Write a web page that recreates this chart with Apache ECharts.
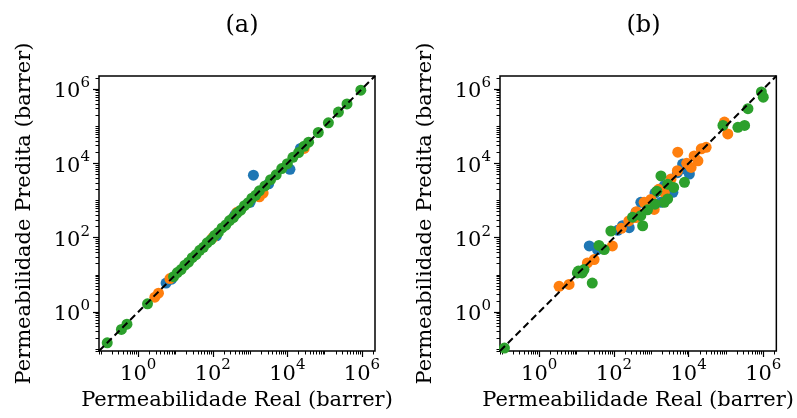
<!DOCTYPE html>
<html>
<head>
<meta charset="utf-8">
<script src="https://cdn.jsdelivr.net/npm/echarts@6/dist/echarts.min.js"></script>
<style>
  html, body { margin: 0; padding: 0; background: #fff; }
  #chart { width: 797px; height: 418px; }
</style>
</head>
<body>
<div id="chart"></div>
<script>
// Axis range shared by both panels (barrer) and the parity line drawn across it
const axisMin = 0.089;
const axisMax = 2240000;
const parityLine = [axisMin, axisMax];

// Tick marks on the log axes
const majorTicks = [1, 100, 10000, 1000000];
const minorTicks = [];
for (let n = -2; n <= 6; n++) {
  for (let k = 1; k <= 9; k++) {
    const v = k * Math.pow(10, n);
    if (k === 1 && majorTicks.indexOf(v) >= 0) continue;
    if (v >= axisMin && v <= axisMax) minorTicks.push(v);
  }
}

// Panel (a): real vs predicted permeability
const aBlueReal = [5.6, 7.9, 126, 398, 1000, 1230, 3160, 11750, 22400];
const aBluePred = [6.0, 7.6, 112, 417, 891, 4790, 2820, 6920, 25100];
const aOrangeReal = [2.8, 3.5, 7.1, 100, 447, 1780, 2240, 28200];
const aOrangePred = [2.5, 3.2, 7.9, 100, 479, 1260, 1580, 25100];
const aGreenReal = [0.148, 0.355, 0.50, 1.78, 8.9, 11.2, 14.1, 17.8, 22.4, 28.2, 35.5, 44.7, 56.2, 70.8, 89.1, 112, 141, 178, 224, 282, 355, 447, 562, 708, 891, 1120, 1410, 1780, 2510, 3550, 5010, 7080, 10000, 14100, 20000, 28200, 37200, 67600, 126000, 234000, 398000, 933000];
const aGreenPred = [0.148, 0.339, 0.47, 1.66, 8.9, 11.5, 13.8, 18.2, 21.9, 28.8, 34.7, 45.7, 55.0, 72.4, 87.1, 115, 138, 182, 219, 288, 347, 457, 550, 724, 871, 1150, 1380, 1820, 2460, 3630, 4900, 7240, 9770, 14500, 19500, 28800, 37200, 67600, 123000, 240000, 398000, 933000];

// Panel (b): real vs predicted permeability
const bBlueReal = [21.9, 36.3, 170, 257, 525, 1820, 3800, 6920, 10500, 2240, 389, 5010, 126, 1260, 7940];
const bBluePred = [60, 47.9, 209, 186, 891, 891, 1660, 9550, 5130, 2510, 479, 5620, 158, 1585, 7080];
const bOrangeReal = [3.4, 6.3, 5130, 91, 29.5, 19.5, 21900, 29500, 17800, 11700, 977, 646, 1200, 3390, 91200, 112000, 389, 2240, 158, 251, 398, 1000, 1585, 5010, 8910, 14100];
const bOrangePred = [4.9, 5.5, 20000, 60, 25.7, 20.9, 24500, 26900, 11700, 7760, 1070, 891, 575, 3800, 129000, 61700, 347, 1660, 178, 282, 501, 708, 1995, 6310, 10000, 15800];
const bGreenReal = [0.117, 26.3, 10.5, 15.8, 83, 55, 39.8, 589, 525, 1820, 2750, 2240, 2750, 7760, 83200, 209000, 316000, 389000, 891000, 1000000, 1410, 11.2, 14.1, 316, 794, 1260, 3980];
const bGreenPred = [0.107, 6.0, 11.2, 13.8, 151, 47.9, 61.7, 209, 389, 4570, 2750, 891, 1100, 3090, 105000, 93300, 105000, 295000, 832000, 603000, 1780, 12.6, 11.2, 355, 562, 794, 2240];

const panelTitles = ['(a)', '(b)'];
const xName = 'Permeabilidade Real (barrer)';
const yName = 'Permeabilidade Predita (barrer)';

const colors = { blue: '#1f77b4', orange: '#ff7f0e', green: '#2ca02c' };
const serif = 'DejaVu Serif';

const pairs = (xs, ys) => xs.map((x, i) => [x, ys[i]]);

const grids = [
  { left: 99, top: 76, width: 276, height: 275 },
  { left: 500, top: 76, width: 277, height: 275 }
];

function powLabel(v) {
  const e = Math.round(Math.log10(v));
  return '{b|10}{s|' + e + '}';
}

const labelRich = {
  b: { fontFamily: serif, fontSize: 21, color: '#000', lineHeight: 27, verticalAlign: 'bottom' },
  s: { fontFamily: serif, fontSize: 15, color: '#000', lineHeight: 27, verticalAlign: 'top' }
};

function majorAxis(gi, isX) {
  return {
    type: 'log', logBase: 10, gridIndex: gi,
    position: isX ? 'bottom' : 'left',
    min: axisMin, max: axisMax,
    name: isX ? xName : yName,
    nameLocation: 'middle',
    nameGap: isX ? 38 : 64,
    nameTextStyle: { fontFamily: serif, fontSize: 21, color: '#000' },
    axisLine: { show: false },
    splitLine: { show: false },
    axisTick: { show: true, inside: false, length: 6, customValues: majorTicks,
      lineStyle: { color: '#000', width: 1.2 } },
    axisLabel: { show: true, customValues: majorTicks, margin: isX ? 7 : 9,
      formatter: powLabel, rich: labelRich }
  };
}

function minorAxis(gi, isX) {
  return {
    type: 'log', logBase: 10, gridIndex: gi,
    position: isX ? 'bottom' : 'left',
    min: axisMin, max: axisMax,
    axisLine: { show: false },
    splitLine: { show: false },
    axisLabel: { show: false },
    axisTick: { show: true, inside: false, length: 3.5, customValues: minorTicks,
      lineStyle: { color: '#000', width: 1 } }
  };
}

function scatter(ax, data, color) {
  return {
    type: 'scatter', xAxisIndex: ax, yAxisIndex: ax, data: data,
    symbol: 'circle', symbolSize: 11,
    itemStyle: { color: color, opacity: 1 },
    silent: true, animation: false
  };
}

function parity(ax) {
  return {
    type: 'line', xAxisIndex: ax, yAxisIndex: ax,
    data: [[parityLine[0], parityLine[0]], [parityLine[1], parityLine[1]]],
    symbol: 'none', silent: true, animation: false, z: 5,
    lineStyle: { color: '#000', width: 2, type: [7, 4] }
  };
}

const chart = echarts.init(document.getElementById('chart'), null, { renderer: 'canvas' });
chart.setOption({
  animation: false,
  backgroundColor: '#fff',
  title: panelTitles.map((t, i) => ({
    text: t,
    left: grids[i].left + grids[i].width / 2,
    top: 9,
    textAlign: 'center',
    textStyle: { fontFamily: serif, fontSize: 24, fontWeight: 'normal', color: '#000' }
  })),
  grid: grids.map(g => Object.assign({ show: true, borderColor: '#000', borderWidth: 1.5, backgroundColor: '#fff' }, g)),
  xAxis: [majorAxis(0, true), minorAxis(0, true), majorAxis(1, true), minorAxis(1, true)],
  yAxis: [majorAxis(0, false), minorAxis(0, false), majorAxis(1, false), minorAxis(1, false)],
  series: [
    scatter(0, pairs(aBlueReal, aBluePred), colors.blue),
    scatter(0, pairs(aOrangeReal, aOrangePred), colors.orange),
    scatter(0, pairs(aGreenReal, aGreenPred), colors.green),
    parity(0),
    scatter(2, pairs(bBlueReal, bBluePred), colors.blue),
    scatter(2, pairs(bOrangeReal, bOrangePred), colors.orange),
    scatter(2, pairs(bGreenReal, bGreenPred), colors.green),
    parity(2)
  ]
});
</script>
</body>
</html>
